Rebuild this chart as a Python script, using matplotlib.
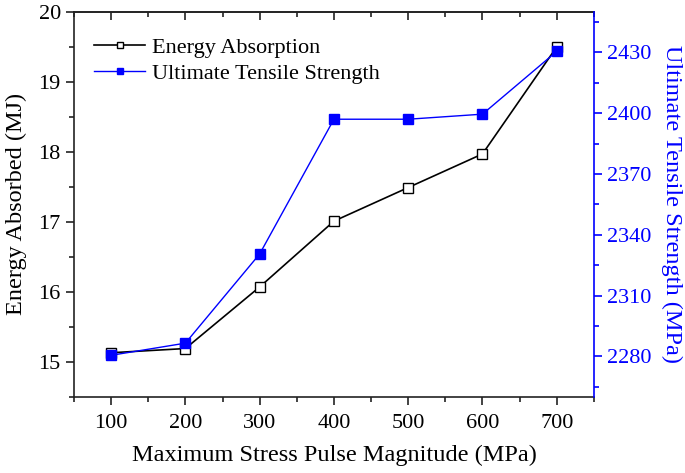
import matplotlib
matplotlib.use("Agg")
import matplotlib.pyplot as plt
from matplotlib.ticker import MultipleLocator

plt.rcParams['font.family'] = ['Liberation Serif', 'DejaVu Serif']
plt.rcParams['mathtext.fontset'] = 'stix'

stress = [100, 200, 300, 400, 500, 600, 700]
energy = [15.13, 15.19, 16.07, 17.01, 17.49, 17.97, 19.50]
uts = [2280.5, 2286.5, 2330.5, 2397, 2397, 2399.5, 2430.5]

fig = plt.figure(figsize=(6.85, 4.73), dpi=100)
ax = fig.add_axes([0.108, 0.161, 0.759, 0.814])
ax2 = ax.twinx()

l1, = ax.plot(stress, energy, color='black', lw=1.2, marker='s', ms=6.5,
              mfc='white', mec='black', mew=1.0, label='Energy Absorption')
l2, = ax2.plot(stress, uts, color='#0000FF', lw=1.0, marker='s', ms=6.5,
               mfc='#0000FF', mec='#0000FF', label='Ultimate Tensile Strength')

ax.set_xlim(50, 750)
ax.set_ylim(14.5, 20)
ax2.set_ylim(2260, 2450)

ax.xaxis.set_major_locator(MultipleLocator(100))
ax.xaxis.set_minor_locator(MultipleLocator(50))
ax.yaxis.set_major_locator(MultipleLocator(1))
ax.yaxis.set_minor_locator(MultipleLocator(0.5))
ax2.yaxis.set_major_locator(MultipleLocator(30))
ax2.yaxis.set_minor_locator(MultipleLocator(15))

fs = 16
lfs = 17.5
ax.tick_params(axis='both', which='major', direction='out', length=6, width=1.2,
               labelsize=fs, color='#222222')
ax.tick_params(axis='both', which='minor', direction='out', length=3.5, width=1.2,
               color='#222222')
ax.tick_params(axis='x', which='major', pad=6)
for s in ['left', 'bottom', 'top']:
    ax.spines[s].set_linewidth(1.2)
    ax.spines[s].set_color('#222222')
ax.spines['right'].set_visible(False)

ax2.tick_params(axis='y', which='major', direction='out', length=6, width=1.2,
                labelsize=fs, colors='#0000FF')
ax2.tick_params(axis='y', which='minor', direction='out', length=3.5, width=1.2,
                colors='#0000FF')
ax2.spines['right'].set_color('#0000FF')
ax2.spines['right'].set_linewidth(1.2)
for s in ['left', 'bottom', 'top']:
    ax2.spines[s].set_visible(False)

# top ticks pointing inward
secx = ax.secondary_xaxis('top')
secx.set_xticks(stress)
secx.xaxis.set_minor_locator(MultipleLocator(50))
secx.tick_params(axis='x', which='major', direction='in', length=6, width=1.2,
                 labeltop=False, color='#222222')
secx.tick_params(axis='x', which='minor', direction='in', length=3.5, width=1.2,
                 color='#222222')
secx.spines['top'].set_linewidth(1.2)
secx.spines['top'].set_color('#222222')
ax.tick_params(axis='x', which='both', top=False)

ax.set_xlabel('Maximum Stress Pulse Magnitude (MPa)', fontsize=lfs, labelpad=9)
ax.set_ylabel('Energy Absorbed (MJ)', fontsize=lfs, labelpad=8)
ax2.set_ylabel('Ultimate Tensile Strength (MPa)', fontsize=lfs, color='#0000FF',
               rotation=270, labelpad=22)

leg = ax.legend(handles=[l1, l2], loc='upper left', frameon=False, fontsize=fs,
                handlelength=2.3, handletextpad=0.3, labelspacing=0.25,
                markerscale=0.6, bbox_to_anchor=(0.0, 0.985), borderaxespad=0.5)

fig.savefig('out.png', dpi=100)
